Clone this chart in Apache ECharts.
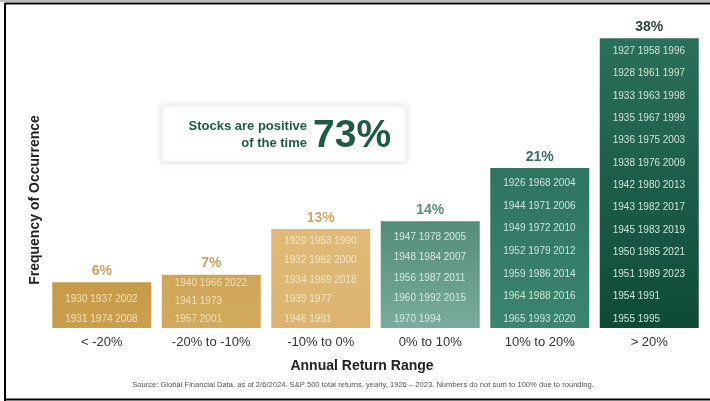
<!DOCTYPE html>
<html>
<head>
<meta charset="utf-8">
<script src="https://cdn.jsdelivr.net/npm/echarts@6/dist/echarts.min.js"></script>
<style>html,body{margin:0;padding:0;background:#fff}#c{width:710px;height:401px}</style>
</head>
<body>
<div id="c"></div>
<script>
// ---- data ----
var categories = ['< -20%', '-20% to -10%', '-10% to 0%', '0% to 10%', '10% to 20%', '> 20%'];
var frequency = [6, 7, 13, 14, 21, 38];
var years = [
  ['1930 1937 2002', '1931 1974 2008'],
  ['1940 1966 2022', '1941 1973', '1957 2001'],
  ['1929 1953 1990', '1932 1962 2000', '1934 1969 2018', '1939 1977', '1946 1981'],
  ['1947 1978 2005', '1948 1984 2007', '1956 1987 2011', '1960 1992 2015', '1970 1994'],
  ['1926 1968 2004', '1944 1971 2006', '1949 1972 2010', '1952 1979 2012', '1959 1986 2014', '1964 1988 2016', '1965 1993 2020'],
  ['1927 1958 1996', '1928 1961 1997', '1933 1963 1998', '1935 1967 1999', '1936 1975 2003', '1938 1976 2009',
   '1942 1980 2013', '1943 1982 2017', '1945 1983 2019', '1950 1985 2021', '1951 1989 2023', '1954 1991', '1955 1995']
];
var positiveShare = '73%';
var calloutLines = ['Stocks are positive', 'of the time'];
var xTitle = 'Annual Return Range';
var yTitle = 'Frequency of Occurrence';
var sourceNote = 'Source: Global Financial Data, as of 2/6/2024. S&P 500 total returns, yearly, 1926 \u2013 2023. Numbers do not sum to 100% due to rounding.';

// ---- styles ----
var barGrad = [
  ['#C79A46', '#CA9F4C'],
  ['#CFA658', '#D2AA5D'],
  ['#E0BA77', '#DCB470'],
  ['#528C7B', '#79AC9D'],
  ['#2E7561', '#3A8470'],
  ['#2B705B', '#0E4B37']
];
var yearColor = ['#F2E0BA', '#F2E0BA', '#F5E6C8', '#D6E7E0', '#D0E3DA', '#CDE2D8'];
var pctColor = ['#C9A35B', '#C9A35B', '#CDAA66', '#5B8E80', '#3D6D5F', '#2F463E'];
var lineH = [20, 18, 19.5, 20.5, 22.6, 22.3];

function grad(c) {
  return new echarts.graphic.LinearGradient(0, 0, 0, 1, [{offset: 0, color: c[0]}, {offset: 1, color: c[1]}]);
}

var barData = frequency.map(function (v, i) {
  return {
    value: v,
    itemStyle: {color: grad(barGrad[i])},
    label: {
      formatter: years[i].join('\n'),
      color: yearColor[i],
      lineHeight: lineH[i],
      offset: [13, lineH[i] / 2 - 9]
    }
  };
});
var pctData = frequency.map(function (v, i) {
  return {value: v, label: {color: pctColor[i]}};
});

var chart = echarts.init(document.getElementById('c'), null, {renderer: 'canvas'});
chart.setOption({
  animation: false,
  backgroundColor: '#fff',
  grid: {left: 47, right: 6, top: 23, bottom: 73},
  xAxis: {
    type: 'category',
    data: categories,
    axisLine: {show: false},
    axisTick: {show: false},
    axisLabel: {margin: 8, fontSize: 13, color: '#333', fontFamily: 'Liberation Sans, Arial, sans-serif'}
  },
  yAxis: {type: 'value', min: 0, max: 40, show: false},
  series: [
    {
      type: 'bar',
      data: barData,
      barWidth: 99,
      label: {
        show: true,
        position: 'insideBottomLeft',
        distance: 0,
        align: 'left',
        fontSize: 10,
        fontFamily: 'Liberation Sans, Arial, sans-serif'
      }
    },
    {
      type: 'bar',
      data: pctData,
      barWidth: 99,
      barGap: '-100%',
      itemStyle: {color: 'rgba(0,0,0,0)'},
      label: {
        show: true,
        position: 'top',
        distance: 4,
        formatter: '{c}%',
        fontSize: 14,
        fontWeight: 'bold',
        fontFamily: 'Liberation Sans, Arial, sans-serif'
      }
    }
  ],
  graphic: [
    {type: 'rect', shape: {x: 162, y: 106, width: 244, height: 56},
     style: {fill: '#fff', stroke: '#eeeeee', lineWidth: 1, shadowBlur: 6, shadowColor: 'rgba(0,0,0,0.12)'}, z: 10},
    {type: 'text', x: 307, y: 126, z: 11,
     style: {text: calloutLines[0], fill: '#1E5A44', font: 'bold 13px Liberation Sans, Arial, sans-serif', align: 'right', verticalAlign: 'middle'}},
    {type: 'text', x: 307, y: 143, z: 11,
     style: {text: calloutLines[1], fill: '#1E5A44', font: 'bold 13px Liberation Sans, Arial, sans-serif', align: 'right', verticalAlign: 'middle'}},
    {type: 'text', x: 313, y: 136, z: 11,
     style: {text: positiveShare, fill: '#1E5A44', font: 'bold 39px Liberation Sans, Arial, sans-serif', align: 'left', verticalAlign: 'middle'}},
    {type: 'text', x: 362, y: 366, z: 11,
     style: {text: xTitle, fill: '#222', font: 'bold 14px Liberation Sans, Arial, sans-serif', align: 'center', verticalAlign: 'middle'}},
    {type: 'text', x: 35, y: 200, rotation: Math.PI / 2, z: 11,
     style: {text: yTitle, fill: '#222', font: 'bold 14px Liberation Sans, Arial, sans-serif', align: 'center', verticalAlign: 'middle'}},
    {type: 'text', x: 363, y: 385, z: 11,
     style: {text: sourceNote, fill: '#555', font: '7.6px Liberation Sans Narrow, Liberation Sans, Arial, sans-serif', align: 'center', verticalAlign: 'middle'}},
    {type: 'rect', shape: {x: 0, y: 0, width: 710, height: 2}, style: {fill: '#bbb'}, z: 20},
    {type: 'line', shape: {x1: 5, y1: 3.5, x2: 710, y2: 3.5}, style: {stroke: '#000', lineWidth: 2}, z: 20},
    {type: 'line', shape: {x1: 5, y1: 3, x2: 5, y2: 401}, style: {stroke: '#000', lineWidth: 2}, z: 20},
    {type: 'line', shape: {x1: 4, y1: 399.5, x2: 710, y2: 399.5}, style: {stroke: '#000', lineWidth: 2}, z: 20}
  ]
});
</script>
</body>
</html>
